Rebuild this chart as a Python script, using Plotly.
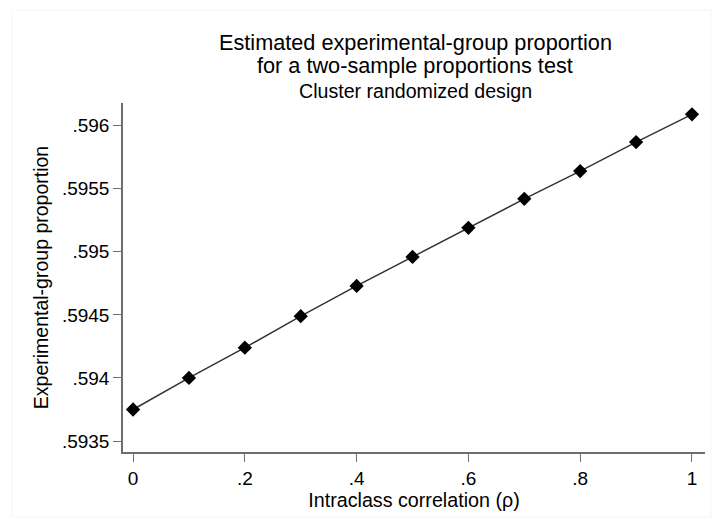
import plotly.graph_objects as go

rho = [0, 0.1, 0.2, 0.3, 0.4, 0.5, 0.6, 0.7, 0.8, 0.9, 1.0]
prop = [0.59375, 0.59400, 0.59424, 0.59449, 0.59473, 0.59496, 0.59519, 0.59542, 0.59564, 0.59587, 0.59609]

xticks = [0, 0.2, 0.4, 0.6, 0.8, 1.0]
xticklabels = ["0", ".2", ".4", ".6", ".8", "1"]
yticks = [0.5935, 0.594, 0.5945, 0.595, 0.5955, 0.596]
yticklabels = [".5935", ".594", ".5945", ".595", ".5955", ".596"]

title_line1 = "Estimated experimental-group proportion"
title_line2 = "for a two-sample proportions test"
subtitle = "Cluster randomized design"
xtitle = "Intraclass correlation (ρ)"
ytitle = "Experimental-group proportion"

font = "Liberation Sans, Arial, sans-serif"

# plot area in pixels
L, R, T, B = 123, 705, 103, 452
W, H = 712, 518
pw, ph = R - L, B - T

def px(xp):
    return (xp - L) / pw

def py(yp):
    return (B - yp) / ph

fig = go.Figure()
fig.add_trace(go.Scatter(
    x=rho, y=prop, mode="lines+markers",
    line=dict(color="#333333", width=1.5),
    marker=dict(symbol="diamond", size=11, color="black"),
    showlegend=False,
))

axis_common = dict(
    showgrid=False, zeroline=False, showline=True, linecolor="#6e6e6e", linewidth=1.5,
    ticks="outside", ticklen=8, tickwidth=1, tickcolor="#6e6e6e",
    tickfont=dict(family=font, size=19, color="black"), automargin=False,
)

fig.update_layout(
    width=W, height=H,
    paper_bgcolor="white", plot_bgcolor="white",
    margin=dict(l=L, r=W - R, t=T, b=H - B),
    font=dict(family=font, color="black"),
    xaxis=dict(range=[-0.018, 1.0233], tickvals=xticks, ticktext=xticklabels,
               title=dict(text=xtitle, font=dict(family=font, size=19.7, color="black"), standoff=0),
               **axis_common),
    yaxis=dict(range=[0.593413, 0.59618], tickvals=yticks, ticktext=yticklabels,
               title=dict(text=ytitle, font=dict(family=font, size=19.5, color="black"), standoff=8),
               **axis_common),
    annotations=[
        dict(text=title_line1, x=px(415), y=py(43), xref="paper", yref="paper",
             xanchor="center", yanchor="middle", showarrow=False,
             font=dict(family=font, size=21.7, color="black")),
        dict(text=title_line2, x=px(415), y=py(65), xref="paper", yref="paper",
             xanchor="center", yanchor="middle", showarrow=False,
             font=dict(family=font, size=21.7, color="black")),
        dict(text=subtitle, x=px(415), y=py(91), xref="paper", yref="paper",
             xanchor="center", yanchor="middle", showarrow=False,
             font=dict(family=font, size=19.6, color="black")),
    ],
    shapes=[dict(type="rect", xref="paper", yref="paper", x0=px(12), x1=px(711), y0=py(517), y1=py(10),
                 line=dict(color="#f5f5f5", width=1), layer="below")],
)

fig.write_html("out.html", config={"displayModeBar": False},
               post_script="document.body.style.margin='0';document.body.style.overflow='hidden';")
